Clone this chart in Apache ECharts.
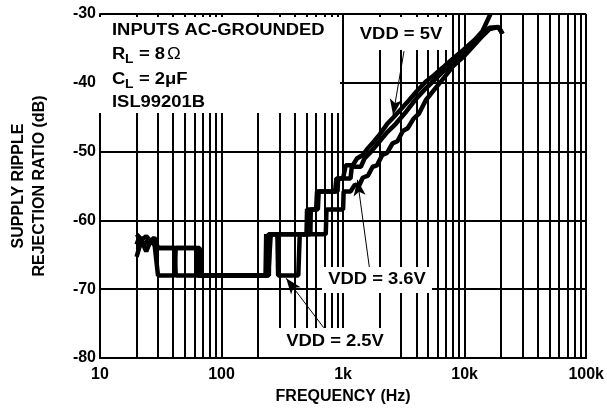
<!DOCTYPE html>
<html>
<head>
<meta charset="utf-8">
<script src="https://cdn.jsdelivr.net/npm/echarts@6/dist/echarts.min.js"></script>
<style>
  html, body { margin: 0; padding: 0; background: #fff; }
  #chart { width: 607px; height: 414px; }
</style>
</head>
<body>
<div id="chart"></div>
<script>
// frequency (Hz), PSRR (dB)
const vdd5 = [
  [20, -62], [22, -62.8], [24, -62.3], [26, -63], [28, -62.5], [30, -64], [62, -64], [64, -68],
  [230, -68], [233, -62], [238, -62], [242, -68], [250, -68], [254, -62], [500, -62], [505, -58.4],
  [600, -58.4], [610, -55.8], [860, -55.8], [880, -53.9], [1000, -53.9], [1050, -52], [1200, -52],
  [1300, -51], [1450, -50.5], [1600, -49.5], [1800, -48.5], [2000, -47.5], [2300, -46], [2600, -45],
  [3000, -43.8], [3500, -42.5], [4000, -41.3], [4800, -39.8], [5500, -39], [6800, -37.6], [8000, -36.5],
  [9800, -35.2], [12000, -33.8], [14000, -32.5], [16300, -30]
]
const vdd36 = [
  [20, -63.5], [21, -62.5], [23, -63.5], [25, -62.8], [28, -63.2], [30, -68], [41, -68], [42, -64],
  [66, -64], [68, -68], [238, -68], [243, -62], [538, -62], [542, -58.4], [620, -58.4], [630, -55.8],
  [900, -55.8], [910, -53.9], [1150, -53.9], [1180, -52.2], [1400, -52.2], [1500, -51], [1700, -50],
  [2000, -48.5], [2300, -47.2], [2700, -46], [3300, -44.2], [4000, -42.3], [4800, -40.8], [5500, -39.8],
  [6800, -38.2], [8000, -37], [9800, -35.6], [12000, -34], [14000, -32.8], [16000, -32], [19000, -31.9],
  [20500, -32.9]
]
const vdd25 = [
  [20, -65.3], [21, -64], [22, -63], [24, -64.5], [26, -63], [28, -63.5], [30, -64], [41, -64], [42, -68],
  [245, -68], [248, -62], [288, -62], [292, -68], [428, -68], [440, -62], [720, -62], [730, -58.4],
  [1000, -58.4], [1010, -55.8], [1150, -55.8], [1250, -54.8], [1350, -55], [1450, -53.8], [1600, -53.5],
  [1750, -52.2], [1900, -52], [2100, -50.5], [2300, -50.2], [2550, -48.8], [2800, -48.5], [3100, -47],
  [3400, -46.6], [3800, -45.2], [4200, -44.5], [4800, -42.5], [5500, -41.2], [6800, -39.2], [8000, -37.6],
  [9800, -36.2], [12000, -34.5], [14000, -33.2], [16000, -32.2], [19000, -31.9], [20500, -32.9]
]
// minor log grid lines
const minorFreqs = [20, 30, 40, 50, 60, 70, 80, 90,
  200, 300, 400, 500, 600, 700, 800, 900,
  2000, 3000, 4000, 5000, 6000, 7000, 8000, 9000,
  20000, 30000, 40000, 50000, 60000, 70000, 80000, 90000]
// arrows: [from, to] in data coords
const arrows = [
  [[3170, -35.4], [2577, -44.7]],
  [[1644, -66.8], [1312, -54.1]],
  [[693, -75.6], [340, -68.4]]
]

const FONT = 'bold 16px "Liberation Sans", Arial, sans-serif'
const SUB = 'bold 12px "Liberation Sans", Arial, sans-serif'
const SX = 1.15

const chart = echarts.init(document.getElementById('chart'))

function box(x, y, w, h) {
  return { type: 'rect', z: 10, silent: true, shape: { x, y, width: w, height: h }, style: { fill: '#fff' } }
}
function txt(text, x, y, align, font) {
  return {
    type: 'text', z: 11, silent: true, x, y, scaleX: SX,
    style: { text, x: 0, y: 0, textAlign: align || 'left', textVerticalAlign: 'middle', font: font || FONT, fill: '#000' }
  }
}

chart.setOption({
  backgroundColor: '#fff',
  animation: false,
  grid: { left: 97, right: 19, top: 14, bottom: 56 },
  xAxis: {
    type: 'log',
    logBase: 10,
    min: 10,
    max: 100000,
    name: 'FREQUENCY (Hz)',
    nameLocation: 'middle',
    nameGap: 31,
    nameTextStyle: { color: '#000', fontWeight: 'bold', fontSize: 16, fontFamily: 'Liberation Sans' },
    axisLine: { lineStyle: { color: '#000', width: 2 } },
    axisTick: { show: false },
    splitLine: { show: true, lineStyle: { color: '#000', width: 2 } },
    axisLabel: {
      color: '#000', fontWeight: 'bold', fontSize: 16, fontFamily: 'Liberation Sans', margin: 9,
      formatter: v => v >= 1000 ? (v / 1000) + 'k' : String(v)
    }
  },
  yAxis: {
    type: 'value',
    min: -80,
    max: -30,
    interval: 10,
    name: 'SUPPLY RIPPLE\nREJECTION RATIO (dB)',
    nameLocation: 'middle',
    nameRotate: 90,
    nameGap: 50,
    nameTextStyle: { color: '#000', fontWeight: 'bold', fontSize: 16, fontFamily: 'Liberation Sans', lineHeight: 21 },
    axisLine: { show: true, lineStyle: { color: '#000', width: 2 } },
    axisTick: { show: false },
    splitLine: { show: true, lineStyle: { color: '#000', width: 2 } },
    axisLabel: { color: '#000', fontWeight: 'bold', fontSize: 16, fontFamily: 'Liberation Sans', margin: 4 }
  },
  series: [
    {
      name: 'VDD = 5V', type: 'line', data: vdd5, showSymbol: false,
      lineStyle: { color: '#000', width: 4.5 },
      markLine: {
        silent: true, symbol: ['none', 'none'], label: { show: false },
        lineStyle: { color: '#000', width: 2, type: 'solid' },
        data: minorFreqs.map(f => ({ xAxis: f }))
      }
    },
    { name: 'VDD = 3.6V', type: 'line', data: vdd36, showSymbol: false, lineStyle: { color: '#000', width: 4.5 } },
    {
      name: 'VDD = 2.5V', type: 'line', data: vdd25, showSymbol: false,
      lineStyle: { color: '#000', width: 4.5 },
      markLine: {
        silent: true, symbol: ['none', 'arrow'], symbolSize: [9, 16], label: { show: false },
        lineStyle: { color: '#000', width: 1, type: 'solid' },
        data: arrows.map(a => [{ coord: a[0] }, { coord: a[1] }])
      }
    }
  ],
  graphic: [
    box(99, 17, 241, 96),
    box(345, 17, 105, 33),
    box(322, 267, 110, 26),
    box(278, 328, 115, 29),
    txt('INPUTS AC-GROUNDED', 112, 31),
    txt('R', 112, 55),
    txt('L', 125, 60, 'left', SUB),
    txt('= 8', 139, 55),
    txt('Ω', 167, 55, 'left', '16px "Liberation Sans", Arial, sans-serif'),
    txt('C', 112, 80),
    txt('L', 125, 85, 'left', SUB),
    txt('= 2μF', 139, 80),
    txt('ISL99201B', 112, 103),
    txt('VDD = 5V', 401, 35, 'center'),
    txt('VDD = 3.6V', 377, 280, 'center'),
    txt('VDD = 2.5V', 335, 342, 'center')
  ]
})
</script>
</body>
</html>
